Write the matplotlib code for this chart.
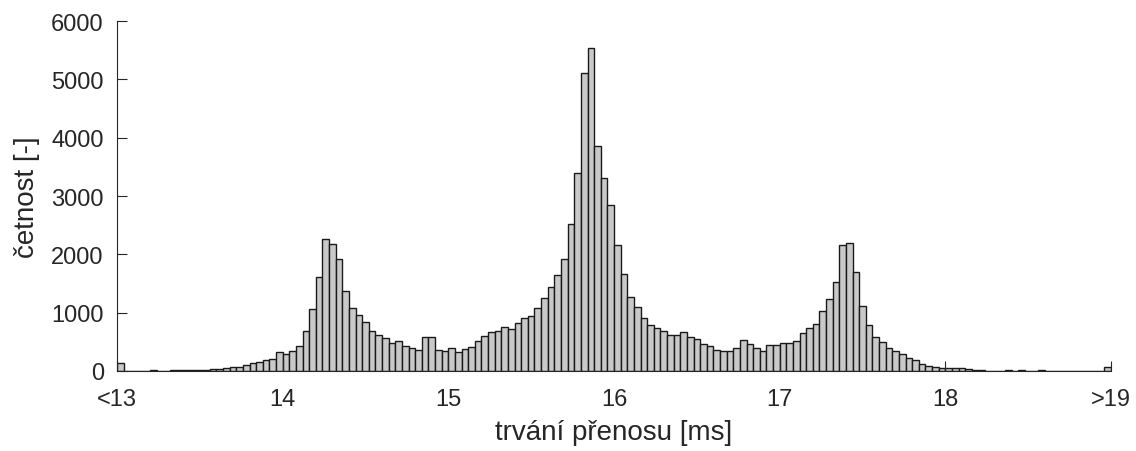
import numpy as np
import matplotlib
matplotlib.use('Agg')
import matplotlib.pyplot as plt

plt.rcParams['font.family'] = ['Liberation Sans', 'DejaVu Sans']

# Histogram counts, 150 bins of 0.04 ms from 13 to 19 ms
# (first bin also holds everything below 13, last bin everything above 19)
counts = [
    135, 5, 5, 5, 5, 20, 5, 5, 10, 10,
    10, 10, 20, 25, 30, 40, 50, 60, 65, 100,
    130, 148, 190, 200, 326, 288, 345, 430, 690, 1063,
    1611, 2269, 2177, 1920, 1371, 1074, 966, 834, 691, 611,
    566, 486, 509, 429, 389, 366, 580, 583, 366, 349,
    389, 326, 371, 406, 509, 606, 663, 691, 749, 726,
    817, 914, 949, 1083, 1251, 1434, 1640, 1920, 2514, 3389,
    5103, 5543, 3863, 3303, 2846, 2160, 1657, 1269, 1091, 903,
    794, 731, 680, 611, 611, 666, 589, 554, 463, 423,
    360, 337, 349, 389, 531, 463, 400, 343, 440, 440,
    474, 486, 509, 657, 734, 811, 1031, 1234, 1528, 2154,
    2194, 1703, 1111, 797, 583, 497, 389, 343, 297, 223,
    194, 117, 90, 60, 51, 51, 51, 43, 29, 23,
    17, 5, 5, 5, 20, 5, 20, 5, 5, 10,
    5, 5, 5, 5, 5, 5, 5, 5, 5, 69,
]
x_min, x_max = 13, 19
tick_pos = [13, 14, 15, 16, 17, 18, 19]
tick_labels = ['<13', '14', '15', '16', '17', '18', '>19']
y_ticks = [0, 1000, 2000, 3000, 4000, 5000, 6000]

edges = np.linspace(x_min, x_max, len(counts) + 1)
width = edges[1] - edges[0]

fig = plt.figure(figsize=(11.36, 4.52), dpi=100)
ax = fig.add_axes([0.103, 0.177, 0.875, 0.774])

ax.bar(edges[:-1], counts, width=width, align='edge',
       color='#c9c9c9', edgecolor='#1a1a1a', linewidth=1.0)

ax.set_xlim(x_min, x_max)
ax.set_ylim(0, 6000)
ax.set_xticks(tick_pos)
ax.set_xticklabels(tick_labels)
ax.set_yticks(y_ticks)

ax.spines['top'].set_visible(False)
ax.spines['right'].set_visible(False)
for s in ['left', 'bottom']:
    ax.spines[s].set_color('#262626')
    ax.spines[s].set_linewidth(0.8)

ax.tick_params(direction='in', length=7, width=0.8, color='#262626',
               labelcolor='#262626', labelsize=17)
ax.tick_params(axis='x', pad=12.5)
ax.tick_params(axis='y', pad=9.5)

ax.set_xlabel('trvání přenosu [ms]', fontsize=20, color='#262626', labelpad=6)
ax.set_ylabel('četnost [-]', fontsize=20, color='#262626', labelpad=8)

fig.savefig('out.png', dpi=100)
